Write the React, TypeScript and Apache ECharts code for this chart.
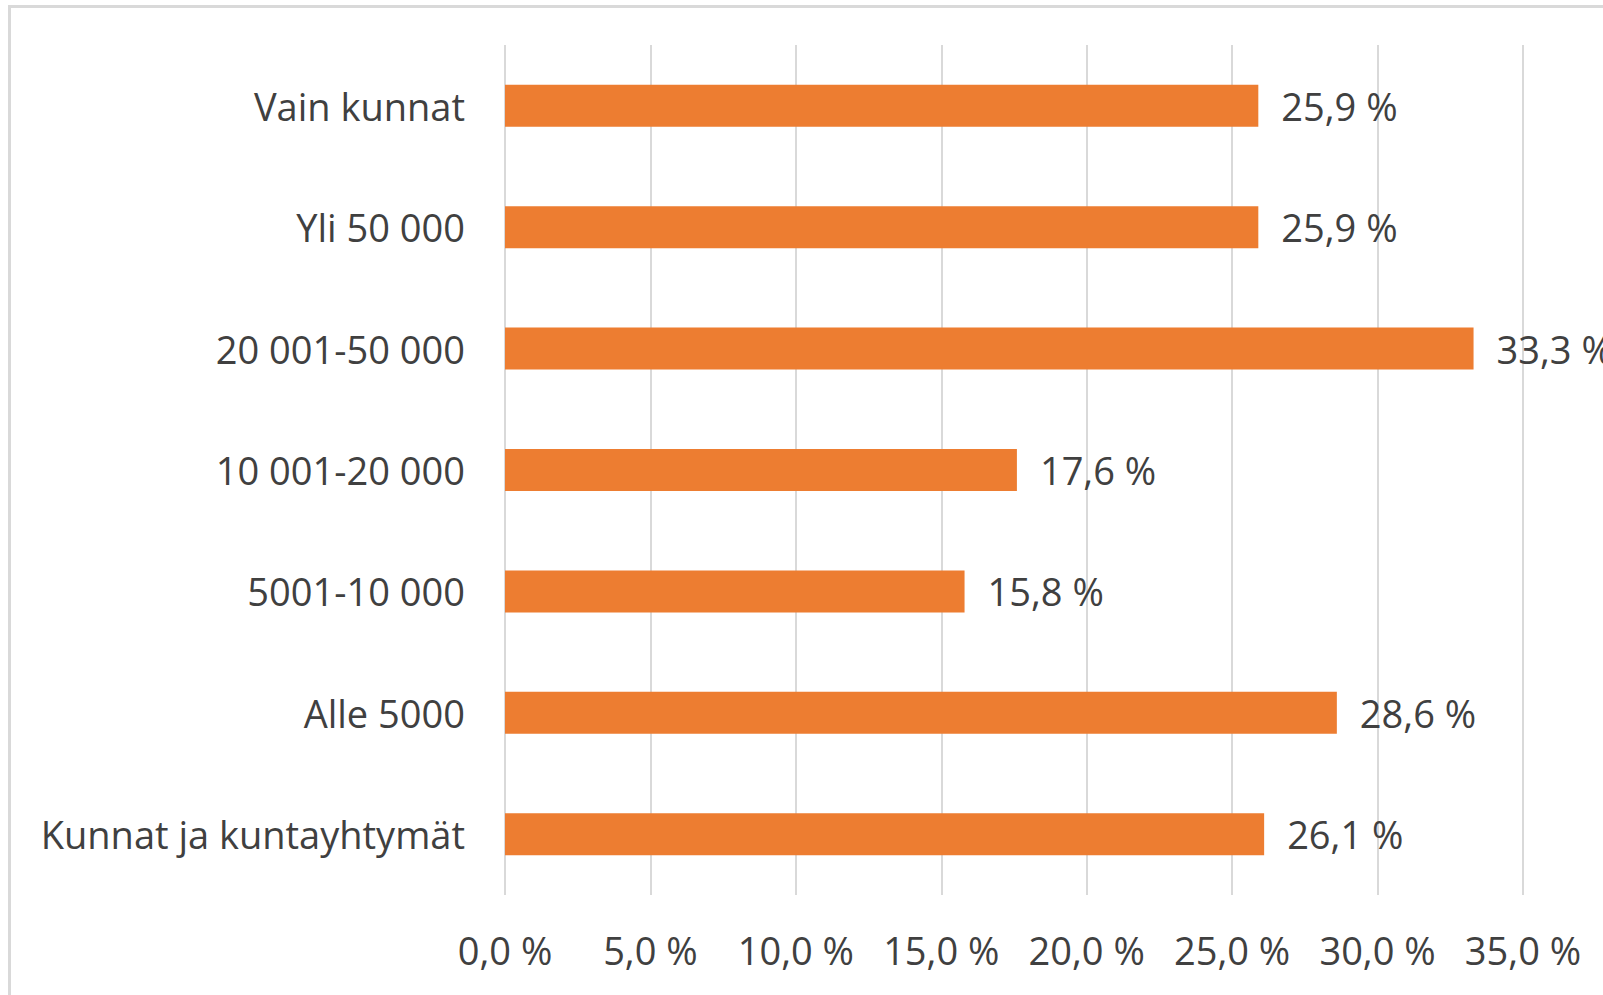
import React, { useEffect, useRef } from "react";
import * as echarts from "echarts";

const categories = [
  "Vain kunnat",
  "Yli 50 000",
  "20 001-50 000",
  "10 001-20 000",
  "5001-10 000",
  "Alle 5000",
  "Kunnat ja kuntayhtymät",
];
const values = [25.9, 25.9, 33.3, 17.6, 15.8, 28.6, 26.1];
const axisMin = 0;
const axisMax = 35;
const axisStep = 5;

const fmt = (v: number) => v.toFixed(1).replace(".", ",") + " %";

export default function App() {
  const ref = useRef<HTMLDivElement>(null);
  useEffect(() => {
    if (!ref.current) return;
    const chart = echarts.init(ref.current, null, { renderer: "svg" });
    const textColor = "#404040";
    const font = "'Open Sans', Lato, sans-serif";
    const fs = 38;
    chart.setOption({
      animation: false,
      backgroundColor: "#ffffff",
      textStyle: { fontFamily: font },
      graphic: [
        {
          type: "rect",
          shape: { x: 9.5, y: 6.5, width: 1700, height: 1100 },
          style: { fill: "none", stroke: "#d9d9d9", lineWidth: 3 },
          z: -10,
          silent: true,
        },
      ],
      grid: { left: 505, top: 45, right: 80, bottom: 100, containLabel: false },
      xAxis: {
        type: "value",
        min: axisMin,
        max: axisMax,
        interval: axisStep,
        axisLine: { show: false },
        axisTick: { show: false },
        splitLine: { show: true, lineStyle: { color: "#d9d9d9", width: 2 } },
        axisLabel: {
          formatter: (v: number) => fmt(v),
          color: textColor,
          fontSize: fs,
          fontFamily: font,
          margin: 36,
        },
      },
      yAxis: {
        type: "category",
        data: categories,
        inverse: true,
        axisLine: { show: false },
        axisTick: { show: false },
        splitLine: { show: false },
        axisLabel: {
          color: textColor,
          fontSize: fs,
          fontFamily: font,
          margin: 40,
        },
      },
      series: [
        {
          type: "bar",
          data: values,
          barWidth: 42,
          itemStyle: { color: "#ED7D31" },
          label: {
            show: true,
            position: "right",
            distance: 23,
            formatter: (p: any) => fmt(p.value),
            color: textColor,
            fontSize: fs,
            fontFamily: font,
          },
        },
      ],
    });
    return () => chart.dispose();
  }, []);
  return (
    <div
      ref={ref}
      style={{ position: "fixed", left: 0, top: 0, width: 1603, height: 995 }}
    />
  );
}
